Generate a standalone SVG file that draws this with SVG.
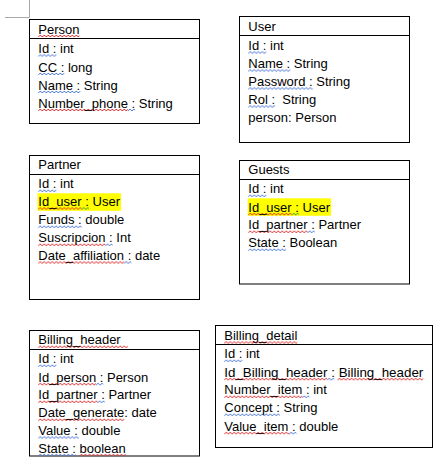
<svg xmlns="http://www.w3.org/2000/svg" width="442" height="469" viewBox="0 0 442 469">
<style>
text{font-family:"Liberation Sans",Arial,sans-serif;font-size:13px;fill:#000}
.box{fill:#fff;stroke:#000;stroke-width:1}
.div{stroke:#000;stroke-width:1}
.hl{fill:#ffff00}
.r{fill:url(#wr)}
.b{fill:url(#wb)}
.g{fill:url(#wg)}
.mark{stroke:#a8a8a8;stroke-width:1}
</style>
<defs>
<pattern id="wr" patternUnits="userSpaceOnUse" width="4" height="4"><path d="M0 3L2 1L4 3" fill="none" stroke="#e02020" stroke-width="0.9"/></pattern>
<pattern id="wb" patternUnits="userSpaceOnUse" width="4" height="4"><path d="M0 3L2 1L4 3" fill="none" stroke="#3f6fd6" stroke-width="0.9"/></pattern>
<pattern id="wg" patternUnits="userSpaceOnUse" width="4" height="4"><path d="M0 3L2 1L4 3" fill="none" stroke="#2f9a3a" stroke-width="0.9"/></pattern>
</defs>
<rect width="442" height="469" fill="#fff"/>
<path class="mark" d="M29.5 0V17.5M5 17.5H29.5"/>
<g id="connectors"/>
<g id="person">
<rect class="box" x="29.5" y="19.5" width="170" height="104"/>
<line class="div" x1="29.5" y1="38.5" x2="199.5" y2="38.5"/>
<rect class="r" transform="translate(38.3 34)" width="41.2" height="4"/>
<rect class="b" transform="translate(38.3 53.5)" width="18" height="4"/>
<rect class="b" transform="translate(38.3 72)" width="26" height="4"/>
<rect class="b" transform="translate(38.3 90)" width="42" height="4"/>
<rect class="r" transform="translate(38.3 108)" width="89.6" height="4"/>
<rect class="b" transform="translate(127.9 108)" width="7.2" height="4"/>
<text x="38.3" y="33.5"><tspan>Person</tspan></text>
<text x="38.3" y="53"><tspan>Id :</tspan> int</text>
<text x="38.3" y="71.5"><tspan>CC :</tspan> long</text>
<text x="38.3" y="89.5"><tspan>Name :</tspan> String</text>
<text x="38.3" y="107.5"><tspan>Number_phone</tspan><tspan> :</tspan> String</text>
</g>
<g id="user">
<rect class="box" x="239.5" y="16.5" width="170" height="126"/>
<line class="div" x1="239.5" y1="35.5" x2="409.5" y2="35.5"/>
<rect class="b" transform="translate(248.3 50.5)" width="18" height="4"/>
<rect class="b" transform="translate(248.3 68.5)" width="42" height="4"/>
<rect class="b" transform="translate(248.3 86.5)" width="64.3" height="4"/>
<rect class="b" transform="translate(248.3 104.5)" width="26.7" height="4"/>
<text x="248.3" y="30.5">User</text>
<text x="248.3" y="50"><tspan>Id :</tspan> int</text>
<text x="248.3" y="68"><tspan>Name :</tspan> String</text>
<text x="248.3" y="86"><tspan>Password :</tspan> String</text>
<text x="248.3" y="104" style="white-space:pre"><tspan>Rol :</tspan>  String</text>
<text x="248.3" y="121.5">person: Person</text>
</g>
<g id="partner">
<rect class="box" x="29.5" y="155.5" width="170" height="144"/>
<line class="div" x1="29.5" y1="174.5" x2="199.5" y2="174.5"/>
<rect class="hl" x="37.5" y="193.3" width="83.5" height="17.5"/>
<rect class="b" transform="translate(38.3 188.8)" width="18" height="4"/>
<rect class="r" transform="translate(38.3 206.5)" width="43.4" height="4"/>
<rect class="g" transform="translate(81.7 206.5)" width="7.2" height="4"/>
<rect class="b" transform="translate(38.3 224.8)" width="43.4" height="4"/>
<rect class="r" transform="translate(38.3 242.8)" width="67.2" height="4"/>
<rect class="b" transform="translate(105.5 242.8)" width="7.2" height="4"/>
<rect class="r" transform="translate(38.3 260.5)" width="86" height="4"/>
<rect class="b" transform="translate(124.3 260.5)" width="7.2" height="4"/>
<text x="38.3" y="169.3">Partner</text>
<text x="38.3" y="188.3"><tspan>Id :</tspan> int</text>
<text x="38.3" y="206"><tspan>Id_user</tspan><tspan> :</tspan> User</text>
<text x="38.3" y="224.3"><tspan>Funds :</tspan> double</text>
<text x="38.3" y="242.3"><tspan>Suscripcion</tspan><tspan> :</tspan> Int</text>
<text x="38.3" y="260"><tspan>Date_affiliation</tspan><tspan> :</tspan> date</text>
</g>
<g id="guests">
<rect class="box" x="239.5" y="160.5" width="170" height="123.5"/>
<line class="div" x1="239.5" y1="179.5" x2="409.5" y2="179.5"/>
<rect class="hl" x="247.7" y="198.3" width="83.3" height="17.5"/>
<rect class="b" transform="translate(248.3 193.8)" width="18" height="4"/>
<rect class="r" transform="translate(248.3 212.2)" width="43.4" height="4"/>
<rect class="g" transform="translate(291.7 212.2)" width="7.2" height="4"/>
<rect class="r" transform="translate(248.3 229.8)" width="59.3" height="4"/>
<rect class="b" transform="translate(307.6 229.8)" width="7.2" height="4"/>
<rect class="b" transform="translate(248.3 247.8)" width="37.6" height="4"/>
<text x="248.3" y="174.3">Guests</text>
<text x="248.3" y="193.3"><tspan>Id :</tspan> int</text>
<text x="248.3" y="211.7"><tspan>Id_user</tspan><tspan> :</tspan> User</text>
<text x="248.3" y="229.3"><tspan>Id_partner</tspan><tspan> :</tspan> Partner</text>
<text x="248.3" y="247.3"><tspan>State :</tspan> Boolean</text>
</g>
<g id="billing_header">
<rect class="box" x="29.5" y="330.5" width="170" height="125.5"/>
<line class="div" x1="29.5" y1="349.5" x2="199.5" y2="349.5"/>
<rect class="r" transform="translate(38.3 344.8)" width="89.6" height="4"/>
<rect class="b" transform="translate(38.3 363.8)" width="18" height="4"/>
<rect class="r" transform="translate(38.3 382.2)" width="57.8" height="4"/>
<rect class="b" transform="translate(96.1 382.2)" width="7.2" height="4"/>
<rect class="r" transform="translate(38.3 399.8)" width="59.3" height="4"/>
<rect class="b" transform="translate(97.6 399.8)" width="7.2" height="4"/>
<rect class="r" transform="translate(38.3 417.8)" width="86" height="4"/>
<rect class="b" transform="translate(38.3 435.5)" width="40.5" height="4"/>
<rect class="b" transform="translate(38.3 453.2)" width="37.6" height="2.6"/>
<rect class="r" transform="translate(79.5 453.2)" width="46.3" height="2.6"/>
<text x="38.3" y="344.3"><tspan>Billing_header</tspan></text>
<text x="38.3" y="363.3"><tspan>Id :</tspan> int</text>
<text x="38.3" y="381.7"><tspan>Id_person</tspan><tspan> :</tspan> Person</text>
<text x="38.3" y="399.3"><tspan>Id_partner</tspan><tspan> :</tspan> Partner</text>
<text x="38.3" y="417.3"><tspan>Date_generate</tspan>: date</text>
<text x="38.3" y="435"><tspan>Value :</tspan> double</text>
<text x="38.3" y="452.7"><tspan>State :</tspan> <tspan>boolean</tspan></text>
</g>
<g id="billing_detail">
<rect class="box" x="215.5" y="325.5" width="217" height="122"/>
<line class="div" x1="215.5" y1="344.5" x2="432.5" y2="344.5"/>
<rect class="r" transform="translate(224.3 340.5)" width="73" height="4"/>
<rect class="b" transform="translate(224.3 358.8)" width="18" height="4"/>
<rect class="r" transform="translate(224.3 377.2)" width="103" height="4"/>
<rect class="b" transform="translate(327.3 377.2)" width="6.9" height="4"/>
<rect class="r" transform="translate(337.6 377.2)" width="85.7" height="4"/>
<rect class="r" transform="translate(224.3 394.8)" width="78" height="4"/>
<rect class="b" transform="translate(302.3 394.8)" width="7.2" height="4"/>
<rect class="b" transform="translate(224.3 412.8)" width="55.6" height="4"/>
<rect class="r" transform="translate(224.3 431.2)" width="65" height="4"/>
<rect class="b" transform="translate(289.3 431.2)" width="7.2" height="4"/>
<text x="224.3" y="340"><tspan>Billing_detail</tspan></text>
<text x="224.3" y="358.3"><tspan>Id :</tspan> int</text>
<text x="224.3" y="376.7" textLength="199" lengthAdjust="spacingAndGlyphs"><tspan>Id_Billing_header</tspan><tspan> :</tspan> <tspan>Billing_header</tspan></text>
<text x="224.3" y="394.3"><tspan>Number_item</tspan><tspan> :</tspan> int</text>
<text x="224.3" y="412.3"><tspan>Concept :</tspan> String</text>
<text x="224.3" y="430.7"><tspan>Value_item</tspan><tspan> :</tspan> double</text>
</g>
</svg>
